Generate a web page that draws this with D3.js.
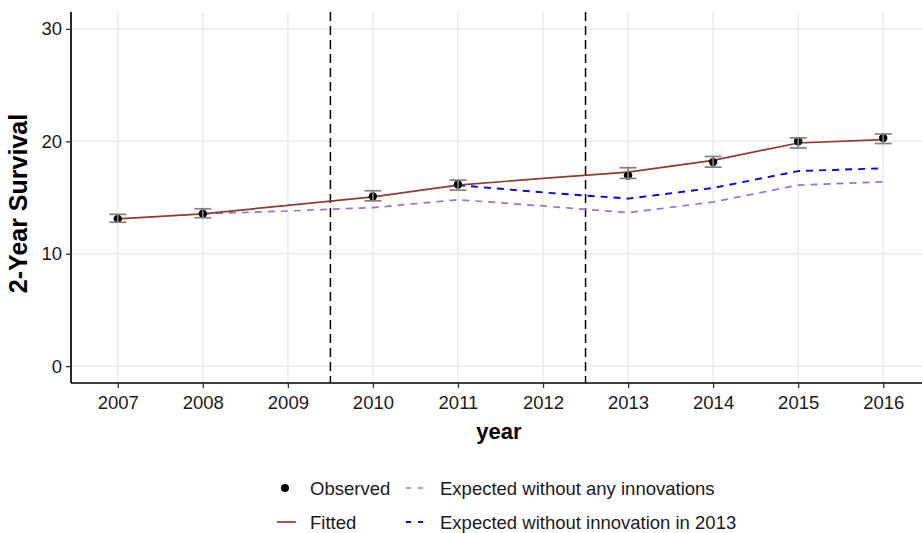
<!DOCTYPE html>
<html>
<head>
<meta charset="utf-8">
<script src="https://cdn.jsdelivr.net/npm/d3@7"></script>
<style>
  html, body { margin: 0; padding: 0; background: #fff; }
  svg { display: block; font-family: "Liberation Sans", Arial, sans-serif; }
</style>
</head>
<body>
<svg id="chart" width="922" height="533"></svg>
<script>
// Survival data by year
const years = [2007, 2008, 2009, 2010, 2011, 2012, 2013, 2014, 2015, 2016];

const obsYears = [2007, 2008, 2010, 2011, 2013, 2014, 2015, 2016];
const observed = [13.1, 13.55, 15.1, 16.15, 16.95, 18.15, 20.0, 20.3];
const obsLow   = [12.8, 13.2, 14.7, 15.65, 16.7, 17.7, 19.4, 19.8];
const obsHigh  = [13.5, 14.0, 15.6, 16.55, 17.65, 18.65, 20.3, 20.65];

const fitted = [13.1, 13.55, 14.3, 15.05, 16.1, 16.7, 17.25, 18.3, 19.85, 20.15];

const noInnovYears = [2008, 2009, 2010, 2011, 2012, 2013, 2014, 2015, 2016];
const noInnov = [13.55, 13.8, 14.1, 14.8, 14.25, 13.65, 14.6, 16.1, 16.4];

const no2013Years = [2011, 2012, 2013, 2014, 2015, 2016];
const no2013 = [16.1, 15.45, 14.9, 15.85, 17.35, 17.6];

const breakYears = [2009.5, 2012.5];
const yTicks = [0, 10, 20, 30];

(function draw() {
  const svg = d3.select("#chart");
  const W = 922;
  const pLeft = 71, pTop = 12, pRight = 930, pBottom = 383;
  const fitColor = "#8E3B2E", noInnovColor = "#9370DB", no2013Color = "#0000FF";

  const x = d3.scaleLinear().domain([2006.45, 2016.55]).range([pLeft, pRight]);
  const y = d3.scaleLinear().domain([-1.5, 31.5]).range([pBottom, pTop]);

  svg.append("defs").append("clipPath").attr("id", "panel")
    .append("rect").attr("x", pLeft).attr("y", pTop).attr("width", W - pLeft).attr("height", pBottom - pTop);

  const panel = svg.append("g").attr("clip-path", "url(#panel)");

  // grid
  panel.selectAll("line.gy").data(yTicks).join("line")
    .attr("x1", pLeft).attr("x2", pRight)
    .attr("y1", d => y(d)).attr("y2", d => y(d))
    .attr("stroke", "#ebebeb").attr("stroke-width", 1.5);
  panel.selectAll("line.gx").data(years).join("line")
    .attr("y1", pTop).attr("y2", pBottom)
    .attr("x1", d => x(d)).attr("x2", d => x(d))
    .attr("stroke", "#ebebeb").attr("stroke-width", 1.5);

  // intervention breaks
  panel.selectAll("line.brk").data(breakYears).join("line")
    .attr("y1", pTop).attr("y2", pBottom)
    .attr("x1", d => x(d)).attr("x2", d => x(d))
    .attr("stroke", "#000").attr("stroke-width", 1.5)
    .attr("stroke-dasharray", "9,5");

  const line = d3.line().x(d => x(d[0])).y(d => y(d[1]));

  panel.append("path")
    .attr("d", line(noInnovYears.map((d, i) => [d, noInnov[i]])))
    .attr("fill", "none").attr("stroke", noInnovColor).attr("stroke-width", 1.7)
    .attr("stroke-dasharray", "7,6");

  panel.append("path")
    .attr("d", line(no2013Years.map((d, i) => [d, no2013[i]])))
    .attr("fill", "none").attr("stroke", no2013Color).attr("stroke-width", 1.9)
    .attr("stroke-dasharray", "7,6");

  panel.append("path")
    .attr("d", line(years.map((d, i) => [d, fitted[i]])))
    .attr("fill", "none").attr("stroke", fitColor).attr("stroke-width", 1.7);

  panel.selectAll("circle.obs").data(obsYears).join("circle")
    .attr("cx", d => x(d)).attr("cy", (d, i) => y(observed[i]))
    .attr("r", 4.2).attr("fill", "#000");

  // error bars
  const eb = panel.append("g").attr("stroke", "#808080").attr("stroke-width", 1.7);
  const hw = x(2007.1) - x(2007);
  obsYears.forEach((yr, i) => {
    const cx = x(yr);
    eb.append("line").attr("x1", cx).attr("x2", cx).attr("y1", y(obsLow[i])).attr("y2", y(obsHigh[i]));
    eb.append("line").attr("x1", cx - hw).attr("x2", cx + hw).attr("y1", y(obsLow[i])).attr("y2", y(obsLow[i]));
    eb.append("line").attr("x1", cx - hw).attr("x2", cx + hw).attr("y1", y(obsHigh[i])).attr("y2", y(obsHigh[i]));
  });

  // axes
  const yAxis = svg.append("g").attr("transform", `translate(${pLeft},0)`)
    .call(d3.axisLeft(y).tickValues(yTicks).tickSize(5).tickPadding(4));
  const xAxis = svg.append("g").attr("transform", `translate(0,${pBottom})`)
    .call(d3.axisBottom(x).tickValues(years).tickFormat(d3.format("d")).tickSize(5).tickPadding(8));
  [yAxis, xAxis].forEach(a => {
    a.select(".domain").attr("stroke", "#000").attr("stroke-width", 1.7);
    a.selectAll(".tick line").attr("stroke", "#333").attr("stroke-width", 1.3);
    a.selectAll(".tick text").attr("fill", "#1a1a1a").style("font-size", "18.5px")
      .style("font-family", "'Liberation Sans', Arial, sans-serif");
  });
  yAxis.select(".domain").attr("d", `M0,${pTop}V${pBottom}`);
  xAxis.select(".domain").attr("d", `M${pLeft},0H${W}`);

  // axis titles
  svg.append("text")
    .attr("transform", `translate(27,${(pTop + pBottom) / 2 + 6}) rotate(-90)`)
    .attr("text-anchor", "middle").attr("font-weight", "bold").attr("font-size", 25)
    .attr("fill", "#000")
    .text("2-Year Survival");
  svg.append("text")
    .attr("x", 499).attr("y", 439)
    .attr("text-anchor", "middle").attr("font-weight", "bold").attr("font-size", 22)
    .attr("fill", "#000")
    .text("year");

  // legend
  const lg = svg.append("g").style("font-size", "18.5px").attr("fill", "#1a1a1a");
  const r1 = 488, r2 = 522;
  lg.append("circle").attr("cx", 285).attr("cy", r1).attr("r", 4).attr("fill", "#000");
  lg.append("text").attr("x", 310).attr("y", r1 + 6.5).text("Observed");
  lg.append("line").attr("x1", 277).attr("x2", 296).attr("y1", r2).attr("y2", r2)
    .attr("stroke", fitColor).attr("stroke-width", 1.7);
  lg.append("text").attr("x", 310).attr("y", r2 + 6.5).text("Fitted");
  lg.append("line").attr("x1", 406).attr("x2", 424).attr("y1", r1).attr("y2", r1)
    .attr("stroke", noInnovColor).attr("stroke-width", 1.7).attr("stroke-dasharray", "5,7");
  lg.append("text").attr("x", 440).attr("y", r1 + 6.5).text("Expected without any innovations");
  lg.append("line").attr("x1", 406).attr("x2", 424).attr("y1", r2).attr("y2", r2)
    .attr("stroke", no2013Color).attr("stroke-width", 1.9).attr("stroke-dasharray", "5,7");
  lg.append("text").attr("x", 440).attr("y", r2 + 6.5).text("Expected without innovation in 2013");
})();
</script>
</body>
</html>
